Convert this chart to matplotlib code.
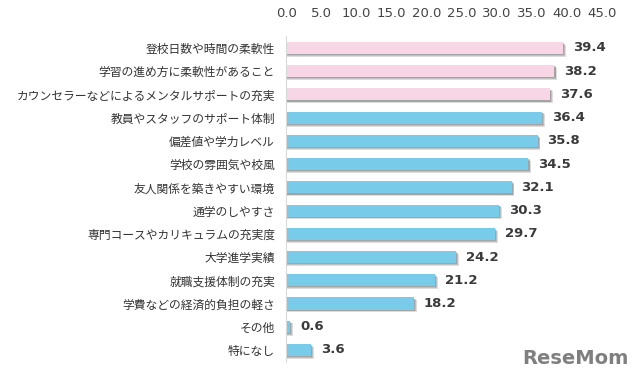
import matplotlib.pyplot as plt
import numpy as np

plt.rcParams['font.family'] = ['Noto Sans CJK JP', 'DejaVu Sans']

labels = ['登校日数や時間の柔軟性', '学習の進め方に柔軟性があること',
          'カウンセラーなどによるメンタルサポートの充実', '教員やスタッフのサポート体制',
          '偏差値や学力レベル', '学校の雰囲気や校風', '友人関係を築きやすい環境',
          '通学のしやすさ', '専門コースやカリキュラムの充実度', '大学進学実績',
          '就職支援体制の充実', '学費などの経済的負担の軽さ', 'その他', '特になし']
values = [39.4, 38.2, 37.6, 36.4, 35.8, 34.5, 32.1, 30.3, 29.7, 24.2, 21.2, 18.2, 0.6, 3.6]
ticks = [0, 5, 10, 15, 20, 25, 30, 35, 40, 45]

pink = '#F7D6E6'
blue = '#79CBEA'
colors = [pink] * 3 + [blue] * (len(values) - 3)

fig = plt.figure(figsize=(6.4, 3.83), dpi=100)
ax = fig.add_axes([0.447, 0.056, 0.494, 0.849])

y = np.arange(len(values))
h = 0.52
# soft drop shadow under each bar
for dx, dy, a in [(0.4, 0.12, 0.25), (0.28, 0.08, 0.3), (0.15, 0.05, 0.4)]:
    ax.barh(y + dy, np.array(values) + dx, height=h, color='#7a7a7a', alpha=a, zorder=1)
ax.barh(y, values, height=h, color=colors, zorder=2)

for yi, v in zip(y, values):
    ax.text(v + 1.4, yi, f'{v:.1f}', va='center', ha='left', fontsize=9.5,
            color='#3a3a3a', fontweight='bold', family=['DejaVu Sans'])

ax.set_xlim(0, 45)
ax.set_ylim(len(values) - 0.5, -0.5)
ax.set_xticks(ticks)
ax.set_xticklabels([f'{t:.1f}' for t in ticks], fontsize=9.5, color='#444444',
                   family=['DejaVu Sans'])
ax.xaxis.tick_top()
ax.tick_params(axis='x', length=0, pad=12)
ax.set_yticks(y)
ax.set_yticklabels(labels, fontsize=8.5, color='#333333')
ax.tick_params(axis='y', length=0, pad=8)
for s in ['top', 'right', 'bottom']:
    ax.spines[s].set_visible(False)
ax.spines['left'].set_color('#d9d9d9')

fig.text(0.982, 0.04, 'ReseMom', ha='right', va='bottom', fontsize=14,
         fontweight='bold', color='#7f7f7f', family=['DejaVu Sans'])

fig.savefig('out.png', dpi=100)
